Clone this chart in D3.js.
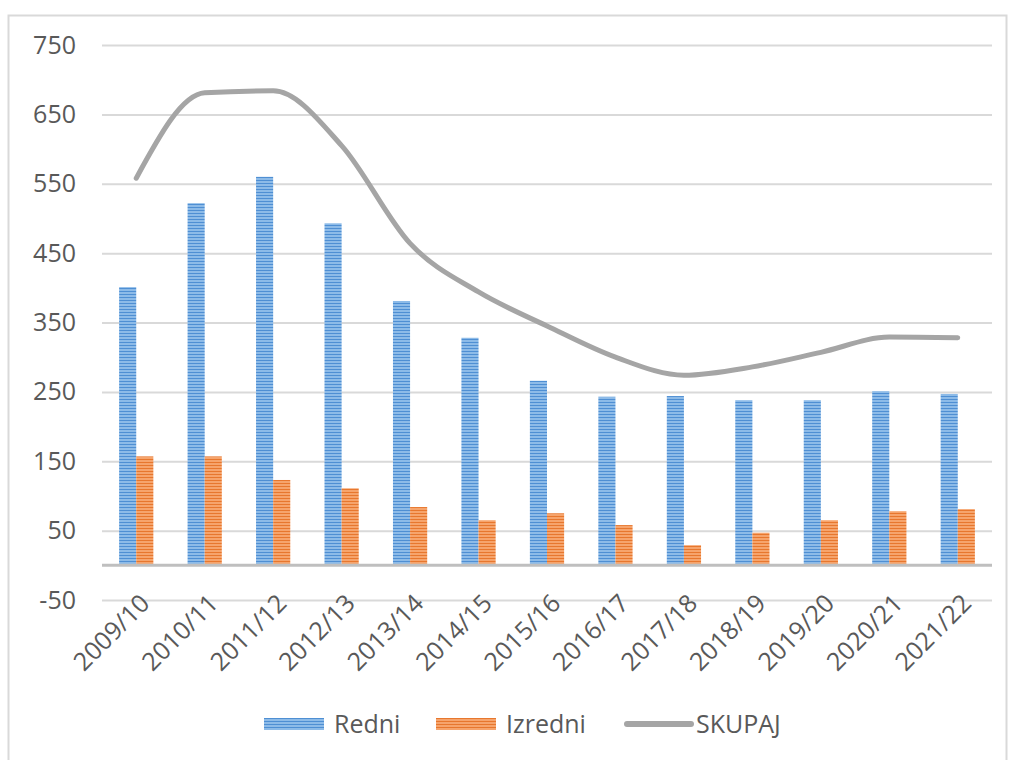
<!DOCTYPE html>
<html>
<head>
<meta charset="utf-8">
<script src="https://cdn.jsdelivr.net/npm/d3@7"></script>
<style>
  body { margin: 0; background: #fff; }
  text { font-family: "Open Sans", Lato, sans-serif; fill: #595959; }
</style>
</head>
<body>
<svg width="1011" height="760"></svg>
<script>
const years = ["2009/10", "2010/11", "2011/12", "2012/13", "2013/14", "2014/15", "2015/16",
  "2016/17", "2017/18", "2018/19", "2019/20", "2020/21", "2021/22"];
const redni = [401, 522, 560, 493, 381, 328, 266, 243, 244, 238, 238, 251, 247];
const izredni = [157, 157, 123, 111, 84, 65, 75, 58, 29, 47, 65, 78, 81];
const skupaj = [558, 681, 684, 605, 464, 394, 345, 300, 274, 286, 307, 329, 328];
const yTicks = [-50, 50, 150, 250, 350, 450, 550, 650, 750];

const svg = d3.select("svg");
const plotLeft = 102, plotRight = 992, plotTop = 45, plotBottom = 600;

// outer frame
svg.append("rect")
  .attr("x", 8.5).attr("y", 15.5).attr("width", 998).attr("height", 760)
  .attr("fill", "none").attr("stroke", "#d9d9d9").attr("stroke-width", 2);

// stripe patterns
const defs = svg.append("defs");
function stripes(id, light, dark) {
  const p = defs.append("pattern").attr("id", id)
    .attr("patternUnits", "userSpaceOnUse").attr("width", 4).attr("height", 3);
  p.append("rect").attr("width", 4).attr("height", 3).attr("fill", light);
  p.append("rect").attr("width", 4).attr("height", 1).attr("fill", dark);
}
stripes("blue", "#8dbbe8", "#4f8fd3");
stripes("orange", "#f6a46c", "#e7772e");

const x = d3.scaleBand().domain(years).range([plotLeft, plotRight]).paddingInner(0.5).paddingOuter(0.25);
const sub = d3.scaleBand().domain(["r", "i"]).range([0, x.bandwidth()]);
const y = d3.scaleLinear().domain([-50, 750]).range([plotBottom, plotTop]);

// gridlines + y labels
const yAxis = d3.axisLeft(y).tickValues(yTicks).tickSize(-(plotRight - plotLeft)).tickPadding(26);
const gy = svg.append("g").attr("transform", `translate(${plotLeft},0)`).call(yAxis);
gy.select(".domain").remove();
gy.selectAll(".tick line").attr("stroke", "#d9d9d9").attr("stroke-width", 2);
gy.selectAll(".tick text").style("font-size", "25px").attr("fill", "#595959")
  .attr("font-family", null).text(d => d < 0 ? "-" + Math.abs(d) : d);

// bars
const groups = svg.append("g").selectAll("g").data(years).join("g")
  .attr("transform", d => `translate(${x(d)},0)`);
groups.append("rect")
  .attr("x", sub("r")).attr("width", sub.bandwidth())
  .attr("y", (d, i) => y(redni[i])).attr("height", (d, i) => y(0) - y(redni[i]))
  .attr("fill", "url(#blue)");
groups.append("rect")
  .attr("x", sub("i")).attr("width", sub.bandwidth())
  .attr("y", (d, i) => y(izredni[i])).attr("height", (d, i) => y(0) - y(izredni[i]))
  .attr("fill", "url(#orange)");

// zero baseline
svg.append("line")
  .attr("x1", plotLeft).attr("x2", plotRight).attr("y1", y(0)).attr("y2", y(0))
  .attr("stroke", "#bfbfbf").attr("stroke-width", 3);

// SKUPAJ line
const line = d3.line()
  .x((d, i) => x(years[i]) + x.bandwidth() / 2)
  .y(d => y(d))
  .curve(d3.curveMonotoneX);
svg.append("path").datum(skupaj)
  .attr("d", line).attr("fill", "none")
  .attr("stroke", "#a5a5a5").attr("stroke-width", 5).attr("stroke-linecap", "round");

// x labels
svg.append("g").selectAll("text").data(years).join("text")
  .attr("transform", d => `translate(${x(d) + x.bandwidth() / 2 + 15},${plotBottom + 5}) rotate(-45)`)
  .attr("text-anchor", "end")
  .style("font-size", "25px")
  .text(d => d);

// legend
const legend = [
  { name: "Redni", type: "bar", fill: "url(#blue)", x: 264 },
  { name: "Izredni", type: "bar", fill: "url(#orange)", x: 436 },
  { name: "SKUPAJ", type: "line", x: 625 }
];
const lg = svg.append("g").selectAll("g").data(legend).join("g")
  .attr("transform", d => `translate(${d.x},724)`);
lg.filter(d => d.type === "bar").append("rect")
  .attr("x", 0).attr("y", -6).attr("width", 60).attr("height", 12)
  .attr("fill", d => d.fill);
lg.filter(d => d.type === "line").append("line")
  .attr("x1", 2).attr("x2", 66).attr("y1", 0).attr("y2", 0)
  .attr("stroke", "#a5a5a5").attr("stroke-width", 6).attr("stroke-linecap", "round");
lg.append("text")
  .attr("x", d => d.type === "line" ? 71 : 70).attr("y", 9)
  .style("font-size", "25px")
  .text(d => d.name);
</script>
</body>
</html>
